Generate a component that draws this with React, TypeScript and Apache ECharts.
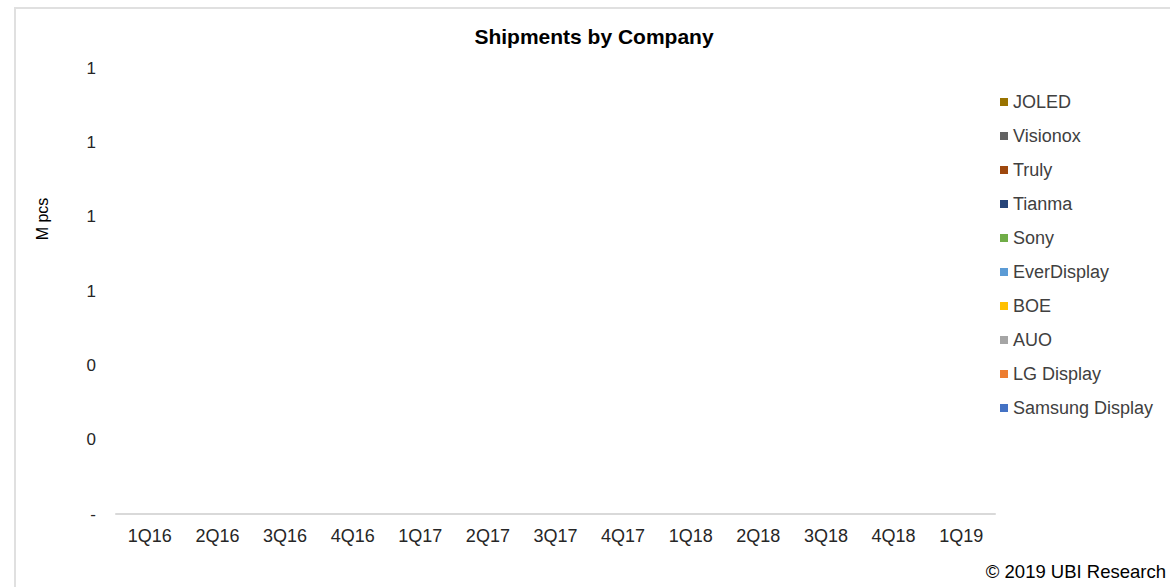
import React, { useEffect, useRef } from "react";
import * as echarts from "echarts";

const categories = ["1Q16", "2Q16", "3Q16", "4Q16", "1Q17", "2Q17", "3Q17", "4Q17", "1Q18", "2Q18", "3Q18", "4Q18", "1Q19"];
const companies = ["Samsung Display", "LG Display", "AUO", "BOE", "EverDisplay", "Sony", "Tianma", "Truly", "Visionox", "JOLED"];
const colors = ["#4472C4", "#ED7D31", "#A5A5A5", "#FFC000", "#5B9BD5", "#70AD47", "#264478", "#9E480E", "#636363", "#997300"];
// The reference shows no bars: every series is empty.
const samsungValues: (number | null)[] = [];
const lgValues: (number | null)[] = [];
const auoValues: (number | null)[] = [];
const boeValues: (number | null)[] = [];
const everDisplayValues: (number | null)[] = [];
const sonyValues: (number | null)[] = [];
const tianmaValues: (number | null)[] = [];
const trulyValues: (number | null)[] = [];
const visionoxValues: (number | null)[] = [];
const joledValues: (number | null)[] = [];
const seriesValues = [samsungValues, lgValues, auoValues, boeValues, everDisplayValues, sonyValues, tianmaValues, trulyValues, visionoxValues, joledValues];
const yMin = 0;
const yMax = 1.2;
const yInterval = 0.2;

export default function App() {
  const ref = useRef<HTMLDivElement>(null);
  useEffect(() => {
    document.body.style.margin = "0";
    const chart = echarts.init(ref.current!, undefined, { renderer: "svg" });
    const font = "'Liberation Sans', Arial, sans-serif";
    chart.setOption({
      animation: false,
      backgroundColor: "#ffffff",
      textStyle: { fontFamily: font },
      title: {
        text: "Shipments by Company",
        left: 589,
        textAlign: "center",
        top: 21,
        textStyle: { fontSize: 21, fontWeight: "bold", color: "#000", fontFamily: font },
      },
      legend: {
        orient: "vertical",
        left: 995,
        top: 88,
        itemWidth: 8,
        itemHeight: 8,
        itemGap: 16,
        icon: "rect",
        data: companies.slice().reverse(),
        textStyle: { fontSize: 18, color: "#404040", fontFamily: font },
      },
      grid: { left: 116, right: 175, top: 68, bottom: 73 },
      xAxis: {
        type: "category",
        data: categories,
        axisLine: { lineStyle: { color: "#d9d9d9", width: 2 } },
        axisTick: { show: false },
        axisLabel: { fontSize: 18, color: "#262626", margin: 13, fontFamily: font },
      },
      yAxis: {
        type: "value",
        min: yMin,
        max: yMax,
        interval: yInterval,
        splitLine: { show: false },
        axisLine: { show: false },
        axisTick: { show: false },
        axisLabel: {
          fontSize: 17,
          color: "#262626",
          margin: 20,
          fontFamily: font,
          formatter: (v: number) => (Math.abs(v) < 1e-9 ? "-" : String(Math.round(v))),
        },
      },
      series: companies.map((name, i) => ({
        name,
        type: "bar",
        stack: "total",
        data: seriesValues[i],
        itemStyle: { color: colors[i] },
        barWidth: "55%",
      })),
      graphic: [
        {
          type: "rect",
          shape: { x: 15, y: 8, width: 1300, height: 700 },
          style: { fill: "none", stroke: "#e0e0e0", lineWidth: 2 },
          silent: true,
        },
        {
          type: "text",
          x: 42,
          y: 219,
          rotation: Math.PI / 2,
          style: { text: "M pcs", fontSize: 16, fill: "#000", textAlign: "center", textVerticalAlign: "middle", fontFamily: font },
        },
        {
          type: "text",
          right: 4,
          top: 562,
          style: { text: "© 2019 UBI Research", fontSize: 18.5, fill: "#000", fontFamily: font },
        },
      ],
    });
    return () => chart.dispose();
  }, []);
  return <div ref={ref} style={{ width: 1170, height: 587 }} />;
}
